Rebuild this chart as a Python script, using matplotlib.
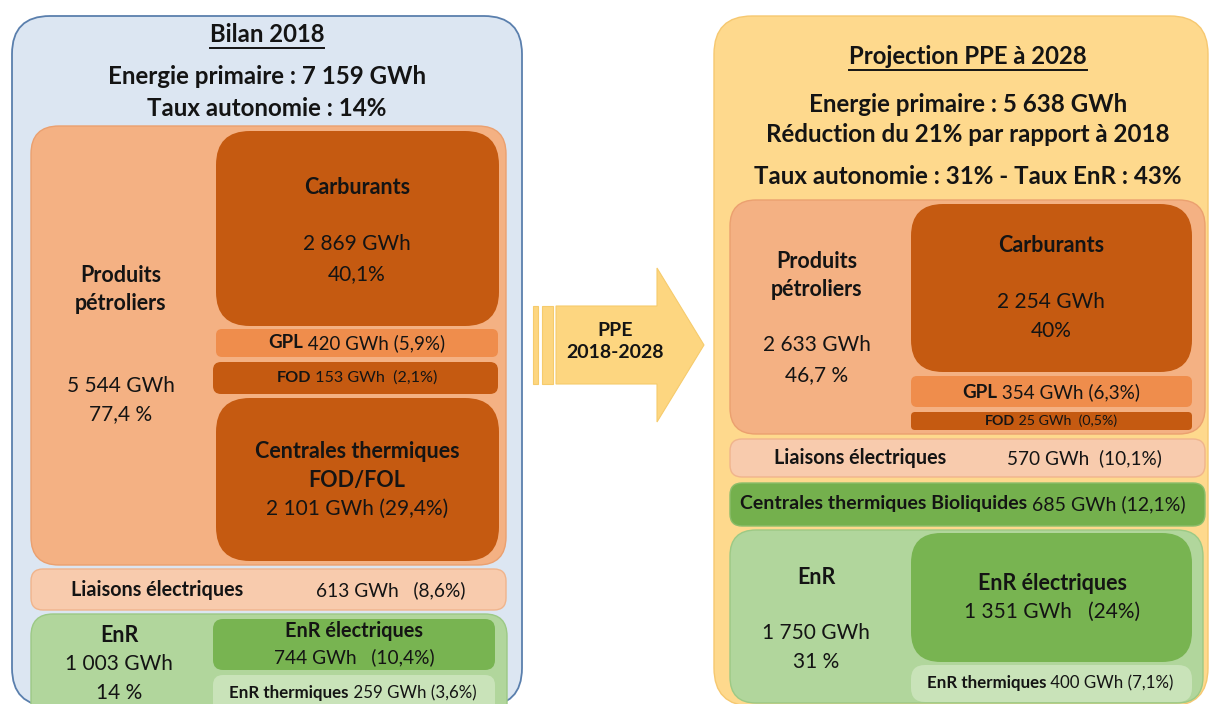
import matplotlib
matplotlib.use("Agg")
import matplotlib.pyplot as plt
from matplotlib.patches import FancyBboxPatch, Polygon, Rectangle

# ---------------- data ----------------
years = ["2018", "2028"]
primaire_gwh = [7159, 5638]
autonomie_pct = [14, 31]
taux_enr_2028 = 43
reduction_pct = 21
ppe_period = "2018-2028"

petroliers_gwh = [5544, 2633]
petroliers_pct = [77.4, 46.7]
carburants_gwh = [2869, 2254]
carburants_pct = [40.1, 40]
gpl_gwh = [420, 354]
gpl_pct = [5.9, 6.3]
fod_gwh = [153, 25]
fod_pct = [2.1, 0.5]
centrales_fod_gwh = 2101
centrales_fod_pct = 29.4
liaisons_gwh = [613, 570]
liaisons_pct = [8.6, 10.1]
bioliquides_gwh = 685
bioliquides_pct = 12.1
enr_gwh = [1003, 1750]
enr_pct = [14, 31]
enr_elec_gwh = [744, 1351]
enr_elec_pct = [10.4, 24]
enr_therm_gwh = [259, 400]
enr_therm_pct = [3.6, 7.1]

# ---------------- helpers ----------------
FONT = ["Lato", "DejaVu Sans"]
W, H = 1211, 704
fig = plt.figure(figsize=(W / 100, H / 100), dpi=100)
ax = fig.add_axes([0, 0, 1, 1])
ax.set_xlim(0, W)
ax.set_ylim(H, 0)
ax.axis("off")
renderer = fig.canvas.get_renderer()
TXT = "#141414"


def fr(v):
    return f"{v:,}".replace(",", " ") + " GWh"


def pct(v, space=False):
    s = f"{int(v)}" if float(v).is_integer() else f"{v:.1f}".replace(".", ",")
    return s + (" %" if space else "%")


def box(x0, y0, x1, y1, fc, ec="none", r=20, lw=1.0, z=1):
    ax.add_patch(FancyBboxPatch((x0, y0), x1 - x0, y1 - y0,
                                boxstyle=f"round,pad=0,rounding_size={r}",
                                fc=fc, ec=ec, lw=lw, zorder=z))


def txt(x, y, s, size, bold=False, ha="center", z=5):
    return ax.text(x, y, s, fontsize=size, fontweight="bold" if bold else "normal",
                   family=FONT, ha=ha, va="center", color=TXT, zorder=z)


def rich(x, y, parts, size):
    ts, ws = [], []
    for s, b in parts:
        t = txt(0, y, s, size, bold=b, ha="left")
        ts.append(t)
        ws.append(t.get_window_extent(renderer).width)
    cur = x - sum(ws) / 2
    for t, w in zip(ts, ws):
        t.set_x(cur)
        cur += w


def title(x, y, s, size):
    t = txt(x, y, s, size, bold=True)
    w = t.get_window_extent(renderer).width
    ax.plot([x - w / 2, x + w / 2], [y + 13, y + 13], color=TXT, lw=1.4, zorder=5)


DARK = "#c55a11"
MID = "#ef8d4c"
ORANGE = "#f4b183"
ORANGE_E = "#eba06f"
PINK = "#f8cbad"
PINK_E = "#f0b48c"
GREEN_L = "#b1d69c"
GREEN_E = "#9cc985"
GREEN = "#78b451"
GREEN_P = "#c9e3b9"

HEAD = 17.4   # header lines
BB = 15.5     # bold box labels
BR = 15.0     # regular box values

# ---------------- left panel : 2018 ----------------
box(12, 16, 522, 706, "#dce6f2", ec="#5a7fad", r=38, lw=1.3, z=0)
box(31, 126, 506, 565, ORANGE, ec=ORANGE_E, r=28)
box(216, 131, 499, 326, DARK, r=34, z=2)
box(216, 329, 498, 357, MID, r=6, z=2)
box(213, 362, 498, 394, DARK, r=8, z=2)
box(216, 398, 499, 561, DARK, r=34, z=2)
box(31, 569, 506, 610, PINK, ec=PINK_E, r=12)
box(31, 614, 507, 730, GREEN_L, ec=GREEN_E, r=22)
box(213, 619, 495, 670, GREEN, r=10, z=2)
box(213, 675, 495, 730, GREEN_P, r=10, z=2)

title(267, 35, f"Bilan {years[0]}", 17.2)
txt(267, 76, f"Energie primaire : {fr(primaire_gwh[0])}", HEAD, True)
txt(267, 108, f"Taux autonomie : {pct(autonomie_pct[0])}", HEAD, True)

txt(357, 187, "Carburants", BB, True)
txt(357, 244, fr(carburants_gwh[0]), BR)
txt(357, 274, pct(carburants_pct[0]), BR)
txt(121, 275, "Produits", BB, True)
txt(121, 304, "pétroliers", BB, True)
txt(121, 386, fr(petroliers_gwh[0]), BR)
txt(121, 414, pct(petroliers_pct[0], True), BR)
rich(357, 343, [("GPL", True), (f" {fr(gpl_gwh[0])} ({pct(gpl_pct[0])})", False)], 13.5)
rich(357, 378, [("FOD", True), (f" {fr(fod_gwh[0])}  ({pct(fod_pct[0])})", False)], 11.6)
txt(357, 451, "Centrales thermiques", BB, True)
txt(357, 480, "FOD/FOL", BB, True)
txt(357, 509, f"{fr(centrales_fod_gwh)} ({pct(centrales_fod_pct)})", BR)
txt(157, 590, "Liaisons électriques", 14.2, True)
txt(391, 590, f"{fr(liaisons_gwh[0])}   ({pct(liaisons_pct[0])})", 13.8)
txt(119, 636, "EnR", BB, True)
txt(119, 664, fr(enr_gwh[0]), BR)
txt(119, 693, pct(enr_pct[0], True), BR)
txt(354, 631, "EnR électriques", 14.3, True)
txt(354, 657, f"{fr(enr_elec_gwh[0])}   ({pct(enr_elec_pct[0])})", 13.8)
rich(353, 693, [("EnR thermiques", True), (f" {fr(enr_therm_gwh[0])} ({pct(enr_therm_pct[0])})", False)], 12.2)

# ---------------- arrow ----------------
ARROW = "#fdd680"
ax.add_patch(Polygon([(556, 306), (657, 306), (657, 268), (704, 345),
                      (657, 422), (657, 384), (556, 384)],
                     closed=True, fc=ARROW, ec="#f6cb6c", lw=0.8, zorder=1))
ax.add_patch(Rectangle((533, 306), 5, 78, fc=ARROW, ec="#f6cb6c", lw=0.8, zorder=1))
ax.add_patch(Rectangle((542, 306), 11, 78, fc=ARROW, ec="#f6cb6c", lw=0.8, zorder=1))
txt(615, 331, "PPE", 14, True)
txt(615, 353, ppe_period, 14, True)

# ---------------- right panel : 2028 ----------------
box(714, 16, 1208, 706, "#fed98d", ec="#f6c870", r=38, lw=1.0, z=0)
box(730, 200, 1205, 434, ORANGE, ec=ORANGE_E, r=26)
box(911, 204, 1192, 372, DARK, r=32, z=2)
box(911, 376, 1192, 407, MID, r=6, z=2)
box(911, 412, 1192, 430, DARK, r=4, z=2)
box(730, 439, 1205, 477, PINK, ec=PINK_E, r=12)
box(730, 483, 1205, 526, "#74b04d", ec="#8bbd6a", r=12)
box(730, 530, 1203, 703, GREEN_L, ec=GREEN_E, r=26)
box(911, 533, 1192, 662, GREEN, r=30, z=2)
box(911, 665, 1192, 702, GREEN_P, r=14, z=2)

title(968, 57, f"Projection PPE à {years[1]}", 17.2)
txt(968, 104, f"Energie primaire : {fr(primaire_gwh[1])}", HEAD, True)
txt(968, 135, f"Réduction du {reduction_pct}% par rapport à {years[0]}", HEAD, True)
txt(968, 176, f"Taux autonomie : {pct(autonomie_pct[1])} - Taux EnR : {pct(taux_enr_2028)}", HEAD, True)

txt(1051, 245, "Carburants", BB, True)
txt(1051, 302, fr(carburants_gwh[1]), BR)
txt(1051, 331, pct(carburants_pct[1]), BR)
txt(817, 261, "Produits", BB, True)
txt(817, 289, "pétroliers", BB, True)
txt(817, 345, fr(petroliers_gwh[1]), BR)
txt(817, 375, pct(petroliers_pct[1], True), BR)
rich(1051, 392, [("GPL", True), (f" {fr(gpl_gwh[1])} ({pct(gpl_pct[1])})", False)], 13.6)
rich(1051, 421, [("FOD", True), (f" {fr(fod_gwh[1])}  ({pct(fod_pct[1])})", False)], 10.2)
txt(860, 458, "Liaisons électriques", 14.2, True)
txt(1084, 458, f"{fr(liaisons_gwh[1])}  ({pct(liaisons_pct[1])})", 13.7)
rich(963, 504, [("Centrales thermiques Bioliquides", True),
                (f" {fr(bioliquides_gwh)} ({pct(bioliquides_pct)})", False)], 14)
txt(816, 577, "EnR", BB, True)
txt(816, 633, fr(enr_gwh[1]), BR)
txt(816, 662, pct(enr_pct[1], True), BR)
txt(1052, 583, "EnR électriques", BB, True)
txt(1052, 612, f"{fr(enr_elec_gwh[1])}   ({pct(enr_elec_pct[1])})", BR)
rich(1050, 683, [("EnR thermiques", True), (f" {fr(enr_therm_gwh[1])} ({pct(enr_therm_pct[1])})", False)], 12.2)

fig.savefig("out.png", dpi=100, facecolor="white")
